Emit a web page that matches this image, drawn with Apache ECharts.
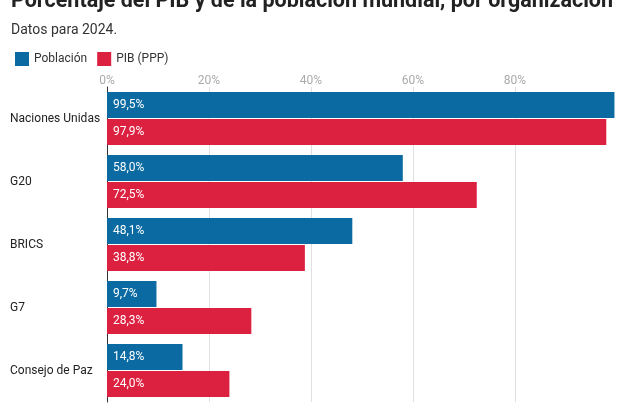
<!DOCTYPE html><html><head><meta charset="utf-8"><script src="https://cdn.jsdelivr.net/npm/echarts@6/dist/echarts.min.js"></script>
<style>body{margin:0}#c{width:624px;height:416px}</style></head><body><div id="c"></div><script>
const categories=["Naciones Unidas","G20","BRICS","G7","Consejo de Paz"];
const poblacion=[99.5,58.0,48.1,9.7,14.8];
const pib=[97.9,72.5,38.8,28.3,24.0];
const fmt=p=>p.value.toFixed(1).replace('.',',')+'%';
const lbl={show:true,position:'insideLeft',color:'#fff',fontSize:12,fontFamily:'Roboto',formatter:fmt,distance:6};
echarts.init(document.getElementById('c')).setOption({
 textStyle:{fontFamily:'Roboto'},
 title:{text:'Porcentaje del PIB y de la población mundial, por organización',subtext:'Datos para 2024.',left:6,top:-14,itemGap:10,
  textStyle:{fontSize:21.5,fontWeight:'bold',color:'#222',fontFamily:'Roboto'},subtextStyle:{fontSize:14,color:'#333',fontFamily:'Roboto'}},
 legend:{left:10,top:47,itemWidth:14,itemHeight:14,icon:'rect',itemGap:10,textStyle:{fontSize:12,color:'#333'},data:['Población','PIB (PPP)']},
 grid:{left:107,right:7,top:87,bottom:14},
 xAxis:{type:'value',position:'top',min:0,max:100,interval:20,axisLabel:{formatter:v=>v>=100?'':v+'%',color:'#aaa',fontSize:12,margin:0},splitLine:{showMaxLine:false,lineStyle:{color:'#e0e0e0'}},axisLine:{show:false},axisTick:{show:false}},
 yAxis:{type:'category',inverse:true,data:categories,axisLine:{lineStyle:{color:'#333'}},axisTick:{show:false},axisLabel:{align:'left',margin:97,color:'#222',fontSize:12}},
 series:[{name:'Población',type:'bar',data:poblacion,barWidth:26,barGap:'4%',itemStyle:{color:'#0a6aa1'},label:lbl},
 {name:'PIB (PPP)',type:'bar',data:pib,barWidth:26,itemStyle:{color:'#dc2040'},label:lbl}]
});
</script></body></html>
